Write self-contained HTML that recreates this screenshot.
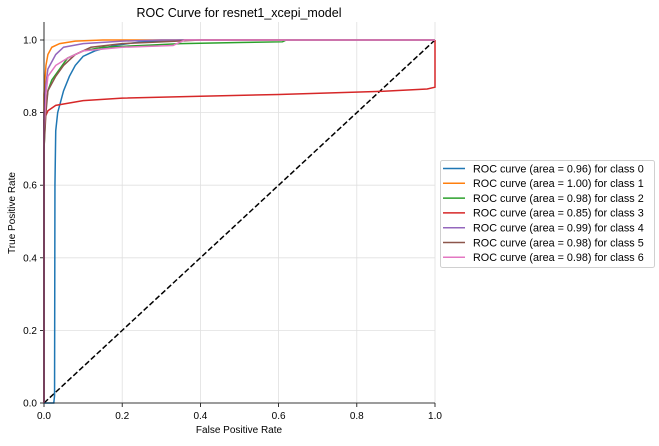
<!DOCTYPE html>
<html><head><meta charset="utf-8"><style>
body{margin:0;background:#fff;}
svg{font-family:"Liberation Sans","DejaVu Sans",sans-serif;}
</style></head><body>
<svg id="chart" width="659" height="441" viewBox="0 0 659 441"></svg>
<script>
const classNames = ["0","1","2","3","4","5","6"];
const aucValues = ["0.96","1.00","0.98","0.85","0.99","0.98","0.98"];
const colors = ["#1f77b4","#ff7f0e","#2ca02c","#d62728","#9467bd","#8c564b","#e377c2"];
const xTicks = [0,0.2,0.4,0.6,0.8,1.0];
const yTicks = [0,0.2,0.4,0.6,0.8,1.0];
const curve0 = [[0,0],[0.025,0],[0.027,0.02],[0.028,0.6],[0.03,0.75],[0.035,0.8],[0.05,0.86],[0.065,0.9],[0.08,0.93],[0.1,0.955],[0.13,0.97],[0.18,0.985],[0.25,0.995],[0.35,1],[1,1]];
const curve1 = [[0,0],[0,0.85],[0.005,0.93],[0.01,0.96],[0.02,0.98],[0.04,0.99],[0.08,0.997],[0.15,1],[1,1]];
const curve2 = [[0,0],[0,0.7],[0.005,0.82],[0.01,0.86],[0.02,0.89],[0.04,0.92],[0.06,0.95],[0.1,0.97],[0.15,0.98],[0.25,0.985],[0.35,0.99],[0.5,0.993],[0.61,0.995],[0.62,1],[1,1]];
const curve3 = [[0,0],[0,0.78],[0.01,0.805],[0.03,0.82],[0.1,0.833],[0.2,0.84],[0.4,0.845],[0.6,0.85],[0.85,0.858],[0.98,0.865],[1,0.87],[1,1]];
const curve4 = [[0,0],[0,0.8],[0.005,0.88],[0.01,0.92],[0.03,0.96],[0.05,0.98],[0.1,0.99],[0.2,0.997],[0.3,1],[1,1]];
const curve5 = [[0,0],[0,0.7],[0.005,0.8],[0.01,0.86],[0.03,0.9],[0.05,0.93],[0.08,0.96],[0.12,0.98],[0.2,0.99],[0.3,0.995],[0.4,1],[1,1]];
const curve6 = [[0,0],[0,0.75],[0.005,0.85],[0.01,0.9],[0.03,0.93],[0.06,0.95],[0.1,0.97],[0.2,0.98],[0.33,0.985],[0.36,1],[1,1]];
const curves = [curve0,curve1,curve2,curve3,curve4,curve5,curve6];

const X0=44,X1=435,Y0=403,Y1=40;
const xs = v => X0 + v*(X1-X0);
const ys = v => Y0 - v*(Y0-Y1);
const svg = document.getElementById('chart');
const NS='http://www.w3.org/2000/svg';
function mk(tag, attrs){const e=document.createElementNS(NS,tag);for(const k in attrs)e.setAttribute(k,attrs[k]);svg.appendChild(e);return e;}

xTicks.forEach(t=>{
  const g=mk('line',{x1:xs(t),x2:xs(t),y1:22,y2:Y0,stroke:'#e0e0e0','stroke-width':0.8});
  
  
  const tk=mk('line',{x1:xs(t),x2:xs(t),y1:Y0,y2:Y0+4,stroke:'#000','stroke-width':0.8});
  
  
  const tx=mk('text',{x:xs(t),y:Y0+16,'font-size':10,'text-anchor':'middle'});
  tx.textContent=t.toFixed(1);
  
  
});
yTicks.forEach(t=>{
  const g=mk('line',{x1:X0,x2:X1,y1:ys(t),y2:ys(t),stroke:'#e0e0e0','stroke-width':0.8});
  
  
  const tk=mk('line',{x1:X0-4,x2:X0,y1:ys(t),y2:ys(t),stroke:'#000','stroke-width':0.8});
  
  
  const tx=mk('text',{x:X0-7,y:ys(t)+3.5,'font-size':10,'text-anchor':'end'});
  tx.textContent=t.toFixed(1);
  
  
});
const diag=mk('line',{x1:xs(0),y1:ys(0),x2:xs(1),y2:ys(1),stroke:'#000','stroke-width':1.5,'stroke-dasharray':'5.5,2.5'});


curves.forEach((c,i)=>{
  const p=mk('polyline',{points:c.map(d=>xs(d[0])+','+ys(d[1])).join(' '),fill:'none',stroke:colors[i],'stroke-width':1.5});
  
  
});
const ax1=mk('line',{x1:X0,x2:X0,y1:22,y2:Y0,stroke:'#000','stroke-width':0.8});


const ax2=mk('line',{x1:X0,x2:X1,y1:Y0,y2:Y0,stroke:'#000','stroke-width':0.8});


const title=mk('text',{x:239,y:17,'font-size':12.5,'text-anchor':'middle'});
title.textContent='ROC Curve for resnet1_xcepi_model';


const xl=mk('text',{x:239,y:433,'font-size':10,'text-anchor':'middle'});
xl.textContent='False Positive Rate';


const yl=mk('text',{x:15,y:213,'font-size':10,'text-anchor':'middle',transform:'rotate(-90 15 213)'});
yl.textContent='True Positive Rate';


const lb=mk('rect',{x:440.5,y:160.5,width:214,height:107,rx:2,fill:'#fff',stroke:'#d0d0d0','stroke-width':1});


classNames.forEach((c,i)=>{
  const y=168.5+i*14.8;
  const l=mk('line',{x1:443,x2:465,y1:y,y2:y,stroke:colors[i],'stroke-width':1.5});
  
  
  const t=mk('text',{x:473,y:y+3.8,'font-size':10.8});
  t.textContent='ROC curve (area = '+aucValues[i]+') for class '+c;
  
  
});
</script>
</body></html>
